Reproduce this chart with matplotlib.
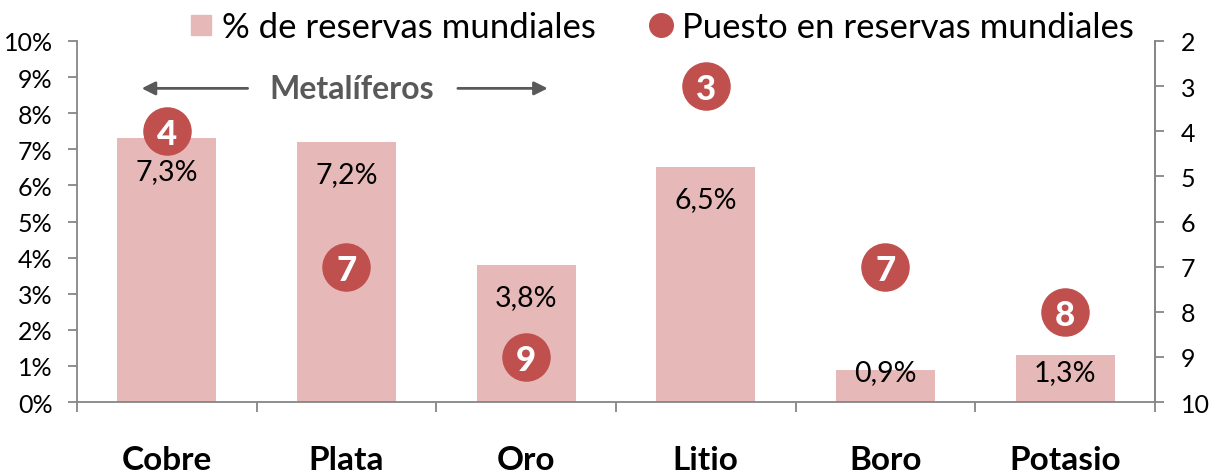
import matplotlib.pyplot as plt
from matplotlib.lines import Line2D
import numpy as np

plt.rcParams['font.family'] = ['Lato', 'DejaVu Sans']

# -------------------------- datos --------------------------
categorias = ['Cobre', 'Plata', 'Oro', 'Litio', 'Boro', 'Potasio']
pct_reservas = [7.3, 7.2, 3.8, 6.5, 0.9, 1.3]          # % de reservas mundiales
etiquetas = ['7,3%', '7,2%', '3,8%', '6,5%', '0,9%', '1,3%']
puesto = [4, 7, 9, 3, 7, 8]                              # puesto en reservas mundiales

color_barra = '#E6B9B8'
color_punto = '#C0504D'
color_eje = '#868686'

fig = plt.figure(figsize=(12.2, 4.77), dpi=100)
ax = fig.add_axes([0.0631, 0.155, 0.8836, 0.757])
x = np.arange(len(categorias))

ax.bar(x, pct_reservas, width=0.55, color=color_barra, zorder=2)
ax.set_xlim(-0.5, len(categorias) - 0.5)
ax.set_ylim(0, 10)
ax.set_yticks(range(0, 11))
ax.set_yticklabels([f'{i}%' for i in range(0, 11)])

# etiquetas de datos (dentro de la barra, cerca del extremo)
for xi, v, t in zip(x, pct_reservas, etiquetas):
    ax.text(xi, max(v - 0.89, 0.83), t, ha='center', va='center',
            fontsize=20.5, color='black', zorder=4)

# ejes
ax.spines['top'].set_visible(False)
for s in ['left', 'bottom', 'right']:
    ax.spines[s].set_color(color_eje)
    ax.spines[s].set_linewidth(1.3)
ax.tick_params(axis='y', direction='out', length=6.5, width=1.3, color=color_eje,
               labelsize=18, pad=11)
ax.set_xticks(x)
ax.set_xticklabels(categorias, fontsize=24, fontweight='bold')
ax.tick_params(axis='x', which='major', length=0, pad=31)
ax.set_xticks(np.arange(-0.5, len(categorias)), minor=True)
ax.tick_params(axis='x', which='minor', direction='out', length=7.5, width=1.3,
               color=color_eje)

# eje secundario: puesto
ax2 = ax.twinx()
ax2.set_ylim(10, 2)
ax2.set_yticks(range(2, 11))
for s in ['top', 'left', 'bottom']:
    ax2.spines[s].set_visible(False)
ax2.spines['right'].set_color(color_eje)
ax2.spines['right'].set_linewidth(1.3)
ax2.tick_params(axis='y', direction='out', length=6.5, width=1.3, color=color_eje,
                labelsize=18, pad=12)
ax2.scatter(x, puesto, s=1150, color=color_punto, zorder=5, clip_on=False)
for xi, p in zip(x, puesto):
    ax2.text(xi, p, str(p), ha='center', va='center_baseline', fontsize=25,
             fontweight='black', color='white', zorder=6)

# anotación "Metalíferos"
ax2.text(1.03, 3.05, 'Metalíferos', ha='center', va='center', fontsize=23,
         fontweight='bold', color='#595959')
ax2.annotate('', xy=(-0.14, 3.05), xytext=(0.45, 3.05),
             arrowprops=dict(arrowstyle='-|>', color='#595959', lw=2,
                             mutation_scale=20, shrinkA=0, shrinkB=0))
ax2.annotate('', xy=(2.12, 3.05), xytext=(1.62, 3.05),
             arrowprops=dict(arrowstyle='-|>', color='#595959', lw=2,
                             mutation_scale=20, shrinkA=0, shrinkB=0))

# leyenda
handles = [
    Line2D([0], [0], marker='s', linestyle='none', markersize=15,
           markerfacecolor=color_barra, markeredgecolor=color_barra,
           label='% de reservas mundiales'),
    Line2D([0], [0], marker='o', linestyle='none', markersize=17,
           markerfacecolor=color_punto, markeredgecolor=color_punto,
           label='Puesto en reservas mundiales'),
]
fig.legend(handles=handles, loc='upper center', bbox_to_anchor=(0.54, 1.04),
           ncol=2, frameon=False, fontsize=25, handletextpad=0.1,
           columnspacing=1.4, handlelength=1.0)

fig.savefig('out.png', dpi=100)
